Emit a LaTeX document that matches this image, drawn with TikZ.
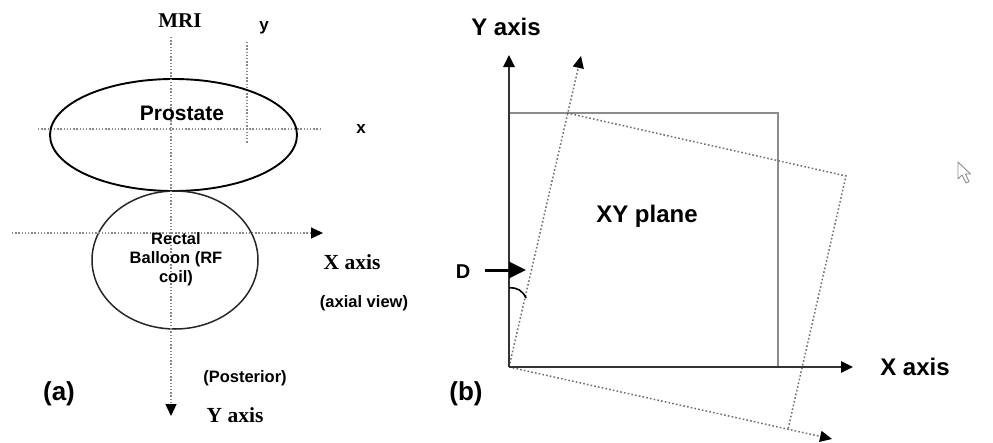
\documentclass[tikz,border=0pt]{standalone}
\usepackage{fontspec}
\setmainfont{Liberation Sans}
\newfontfamily\seriffont{Liberation Serif}
\usetikzlibrary{arrows.meta,calc}
\definecolor{dotgray}{HTML}{8A8A8A}
\definecolor{boxgray}{HTML}{8C8C8C}
\definecolor{axisdark}{HTML}{333333}
\tikzset{
  dotline/.style={draw=dotgray, line width=1.3pt, dash pattern=on 1.3pt off 1.9pt},
  rotline/.style={draw=dotgray!80!black, line width=1.5pt, dash pattern=on 1.6pt off 2.2pt},
  tri/.style={-{Triangle[length=12pt,width=11pt,black]}},
  bigtri/.style={-{Triangle[length=17pt,width=16pt,black]}},
  lbl/.style={inner sep=0pt, font=\bfseries\fontsize{16}{19}\selectfont},
  serlbl/.style={inner sep=0pt, font=\seriffont\bfseries\fontsize{21.5}{24}\selectfont},
  big/.style={inner sep=0pt, font=\bfseries\fontsize{24}{28}\selectfont},
}
\begin{document}
\begin{tikzpicture}[x=1pt,y=-1pt]
\useasboundingbox (0,0) rectangle (993,442);
% ---------- panel (a) ----------
\coordinate (vtop) at (171,37);
\coordinate (vbot) at (171,416);
\coordinate (v2top) at (247,42);
\coordinate (v2bot) at (247,143);
\coordinate (h1l) at (38,129);
\coordinate (h1r) at (320,129);
\coordinate (h2l) at (12,233);
\coordinate (h2r) at (323,233);
\draw[dotline] (v2top) -- (v2bot);
\draw[dotline] (h1l) -- (h1r);
\draw[draw=black, line width=1.9pt] (173.5,135) ellipse [x radius=123.5, y radius=56];
\draw[draw=black!85, line width=1.5pt] (175,260) ellipse [x radius=83, y radius=69];
\draw[dotline, tri] (vtop) -- (vbot);
\draw[dotline, tri] (h2l) -- (h2r);
\node[font=\seriffont\bfseries\fontsize{21}{24}\selectfont, inner sep=0pt] (mri) at (180,21) {MRI};
\node[lbl, font=\bfseries\fontsize{17}{19}\selectfont] (ylab) at (264,28) {y};
\node[lbl, font=\bfseries\fontsize{17}{19}\selectfont] (xlab) at (361,129) {x};
\node[big, font=\bfseries\fontsize{21}{25}\selectfont] (prost) at (182,113) {Prostate};
\node[lbl, align=center, font=\bfseries\fontsize{16.5}{19}\selectfont] (balloon) at (176,259) {Rectal\\Balloon (RF\\coil)};
\node[serlbl] (xaxa) at (352,262) {X axis};
\node[lbl, font=\bfseries\fontsize{16.5}{19}\selectfont] (axial) at (364,303) {(axial view)};
\node[lbl, font=\bfseries\fontsize{16.5}{19}\selectfont] (post) at (245,378) {(Posterior)};
\node[serlbl] (yaxa) at (235,415) {Y axis};
\node[big, font=\bfseries\fontsize{26}{30}\selectfont] (la) at (59,394) {(a)};
% ---------- panel (b) ----------
\coordinate (O) at (509,367);
\coordinate (Ytip) at (509,55);
\coordinate (Xtip) at (853,367);
\coordinate (RTL) at (509,113);
\coordinate (RTR) at (778,113);
\coordinate (RBR) at (778,367);
\coordinate (TL) at (567,113);
\coordinate (TR) at (846,176);
\coordinate (BR) at (788,429);
\coordinate (Yptip) at (581,56);
\coordinate (Xptip) at (832,439);
\draw[draw=boxgray, line width=1.6pt] (RTL) -- (RTR) -- (RBR);
\draw[rotline, tri] (O) -- (Yptip);
\draw[rotline] (TL) -- (TR) -- (BR);
\draw[rotline, tri] (O) -- (Xptip);
\draw[draw=axisdark, line width=2.6pt, tri] (O) -- (Ytip);
\draw[draw=axisdark, line width=2.6pt, tri] (O) -- (Xtip);
\coordinate (Dstart) at (485,270);
\coordinate (Dend) at (526,270);
\draw[black, line width=3pt, bigtri] (Dstart) -- (Dend);
\coordinate (arcA) at (509,288);
\coordinate (arcB) at (526,298);
\draw[black, line width=1.6pt] (arcA) .. controls (517,287) and (523,291) .. (arcB);
\node[big] (yaxb) at (506,27) {Y axis};
\node[big] (xaxb) at (915,367) {X axis};
\node[big] (xy) at (647,216) {XY plane};
\node[lbl, font=\bfseries\fontsize{20}{22}\selectfont] (dlab) at (463,272) {D};
\node[big, font=\bfseries\fontsize{26}{30}\selectfont] (lb) at (466,394) {(b)};
% cursor
\draw[draw=black!45, line width=0.9pt, line join=round] (958,162) -- (958,179) -- (962,175) -- (966,183) -- (969,181.5) -- (965.5,174) -- (970.5,174) -- cycle;
\end{tikzpicture}
\end{document}
